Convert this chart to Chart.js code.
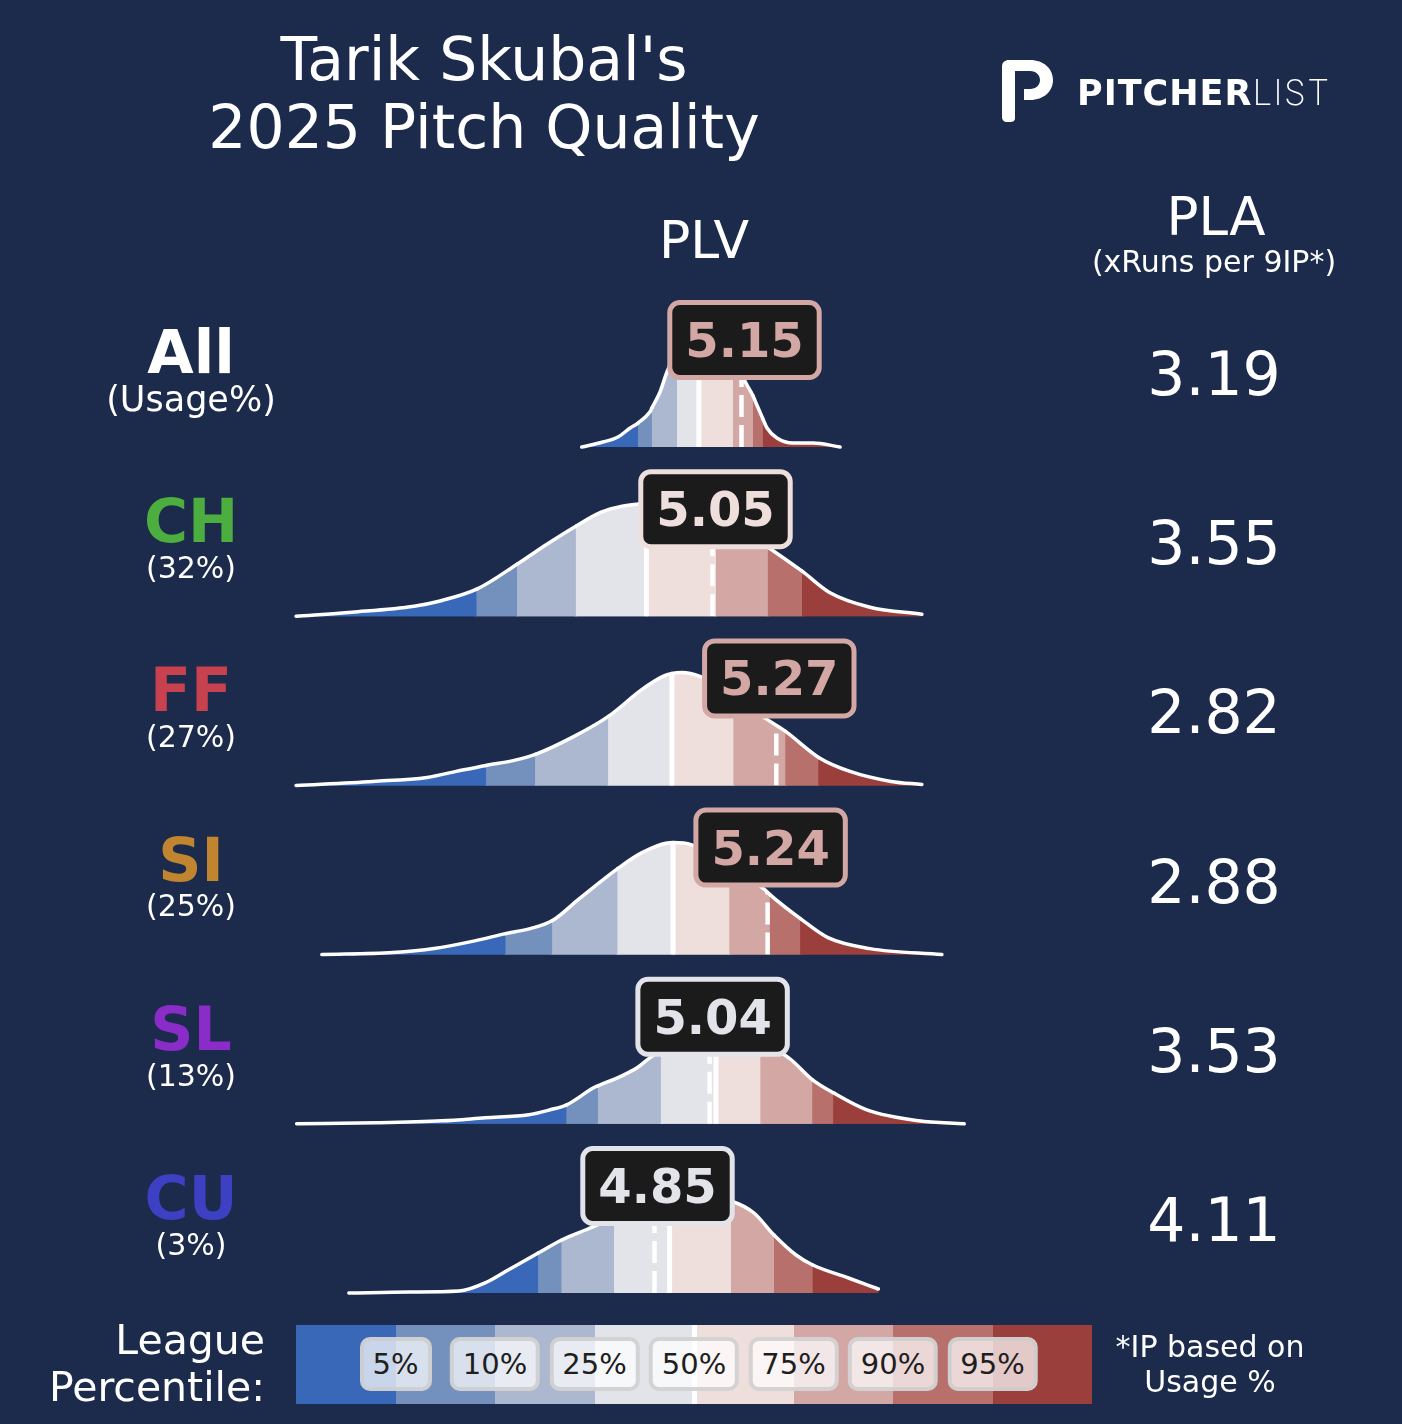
<!DOCTYPE html>
<html>
<head>
<meta charset="utf-8">
<script src="https://cdn.jsdelivr.net/npm/chart.js@4.4.1/dist/chart.umd.min.js"></script>
<style>
html,body{margin:0;padding:0;background:#1c2a4b;}
#wrap{position:relative;width:1402px;height:1424px;overflow:hidden;background:#1c2a4b;font-family:'DejaVu Sans',sans-serif;color:#fff;}
.t{position:absolute;white-space:nowrap;line-height:1;}
.c{transform:translateX(-50%);text-align:center;}
.r{transform:translateX(-100%);text-align:right;}
.lgbox{position:absolute;top:1337px;height:46px;line-height:46px;transform:translateX(-50%);padding:0 9px;font-size:29px;color:#1e1e1e;
  background:rgba(255,255,255,0.72);border:4px solid rgba(205,205,205,0.85);border-radius:10px;white-space:nowrap;}
</style>
</head>
<body>
<div id="wrap">
  <canvas id="c" width="1402" height="1424" style="position:absolute;left:0;top:0;width:1402px;height:1424px;"></canvas>
</div>
<script>
// ---------------- DATA ----------------
const pitchCodes   = ['All', 'CH', 'FF', 'SI', 'SL', 'CU'];
const pitchColors  = ['#ffffff', '#4cae3e', '#c8414f', '#c1842f', '#8a2cc8', '#3e40c4'];
const usageLabels  = ['(Usage%)', '(32%)', '(27%)', '(25%)', '(13%)', '(3%)'];
const plvValues    = [5.15, 5.05, 5.27, 5.24, 5.04, 4.85];
const plaValues    = [3.19, 3.55, 2.82, 2.88, 3.53, 4.11];
const percentileLabels = ['5%', '10%', '25%', '50%', '75%', '90%', '95%'];
const bandColors   = ['#3a68b8', '#7490bd', '#acb8d0', '#e3e4ea', '#efdfdc', '#d3a7a4', '#b7706b', '#9b3f3c'];

// league percentile PLV cut points (5,10,25,50,75,90,95) per pitch type
const allPctl = [4.793, 4.841, 4.928, 5.003, 5.121, 5.190, 5.224];
const chPctl  = [4.237, 4.376, 4.579, 4.822, 5.062, 5.241, 5.359];
const ffPctl  = [4.269, 4.439, 4.691, 4.910, 5.123, 5.302, 5.416];
const siPctl  = [4.337, 4.498, 4.723, 4.914, 5.109, 5.248, 5.353];
const slPctl  = [4.547, 4.655, 4.872, 5.062, 5.216, 5.395, 5.467];
const cuPctl  = [4.449, 4.530, 4.711, 4.902, 5.114, 5.262, 5.396];

// density curves: PLV positions and relative density
const allPLV = [4.599, 4.672, 4.724, 4.766, 4.793, 4.834, 4.841, 4.869, 4.893, 4.928, 4.972, 5.003, 5.048, 5.121, 5.169, 5.190, 5.203, 5.224, 5.238, 5.272, 5.328, 5.397, 5.490];
const allDen = [0, 0.05, 0.10, 0.19, 0.24, 0.35, 0.39, 0.55, 0.75, 0.96, 1.10, 1.14, 1.13, 0.88, 0.62, 0.51, 0.42, 0.28, 0.19, 0.09, 0.04, 0.04, 0];

const chPLV = [3.614, 3.807, 4.021, 4.107, 4.237, 4.376, 4.479, 4.579, 4.666, 4.738, 4.822, 4.903, 4.972, 5.062, 5.162, 5.241, 5.359, 5.452, 5.593, 5.772];
const chDen = [0, 0.04, 0.10, 0.15, 0.27, 0.52, 0.72, 0.90, 1.04, 1.10, 1.13, 1.14, 1.11, 1.02, 0.84, 0.69, 0.45, 0.24, 0.09, 0.02];

const ffPLV = [3.614, 3.879, 4.066, 4.166, 4.269, 4.366, 4.439, 4.566, 4.691, 4.807, 4.879, 4.910, 4.945, 5.007, 5.123, 5.238, 5.302, 5.416, 5.524, 5.666, 5.772];
const ffDen = [0, 0.04, 0.08, 0.14, 0.20, 0.25, 0.31, 0.48, 0.69, 0.96, 1.09, 1.12, 1.13, 1.09, 0.90, 0.66, 0.54, 0.28, 0.14, 0.04, 0.01];

const siPLV = [3.703, 3.948, 4.090, 4.234, 4.337, 4.421, 4.498, 4.591, 4.723, 4.807, 4.914, 4.976, 5.109, 5.234, 5.248, 5.353, 5.448, 5.593, 5.841];
const siDen = [0, 0.02, 0.06, 0.14, 0.21, 0.26, 0.34, 0.56, 0.86, 1.02, 1.12, 1.10, 0.88, 0.64, 0.60, 0.36, 0.17, 0.06, 0];

const slPLV = [3.616, 3.892, 4.117, 4.266, 4.416, 4.490, 4.547, 4.640, 4.655, 4.730, 4.790, 4.834, 4.872, 4.972, 5.062, 5.179, 5.216, 5.313, 5.395, 5.467, 5.582, 5.761, 5.918];
const slDen = [0, 0.01, 0.03, 0.06, 0.09, 0.14, 0.19, 0.36, 0.38, 0.47, 0.56, 0.66, 0.73, 0.88, 0.93, 0.86, 0.81, 0.66, 0.44, 0.31, 0.14, 0.03, 0];

const cuPLV = [3.796, 4.007, 4.176, 4.272, 4.345, 4.449, 4.530, 4.612, 4.711, 4.800, 4.902, 5.007, 5.114, 5.193, 5.262, 5.338, 5.396, 5.519, 5.622];
const cuDen = [0, 0.01, 0.02, 0.11, 0.23, 0.40, 0.53, 0.63, 0.75, 0.84, 0.91, 0.97, 0.92, 0.80, 0.58, 0.38, 0.28, 0.15, 0.04];

const curvesPLV = [allPLV, chPLV, ffPLV, siPLV, slPLV, cuPLV];
const curvesDen = [allDen, chDen, ffDen, siDen, slDen, cuDen];
const curvesPct = [allPctl, chPctl, ffPctl, siPctl, slPctl, cuPctl];

// ---------------- LAYOUT / STYLE ----------------
const ROW_STEP = 169.2;            // px per row unit
const DSCALE = 100 / ROW_STEP;     // density unit -> row units
const rowValue = i => 5 - i;
const bandIndex = (pct, v) => pct.filter(q => q <= v + 1e-9).length;

const wrap = document.getElementById('wrap');
function addText(txt, cls, left, top, size, extra) {
  const d = document.createElement('div');
  d.className = 't ' + cls;
  d.style.left = left + 'px';
  d.style.top = top + 'px';
  d.style.fontSize = size + 'px';
  if (extra) Object.assign(d.style, extra);
  d.textContent = txt;
  wrap.appendChild(d);
  return d;
}

// Title
addText("Tarik Skubal's", 'c', 484, 29, 60);
addText('2025 Pitch Quality', 'c', 484, 97, 60);
// Headers
addText('PLV', 'c', 704, 214, 52);
addText('PLA', 'c', 1216, 190, 53);
addText('(xRuns per 9IP*)', 'c', 1214, 247, 30);

// Logo
const logo = document.createElement('div');
logo.innerHTML = '<svg width="56" height="66" viewBox="0 0 56 66" style="position:absolute;left:999px;top:58px">' +
  '<path fill="#fff" d="M3 9 C3 4 6 2 10 2 L31 2 C45 2 54 11 54 22 C54 33 45 42 31 42 L25 42 L25 31 L31 31 C37 31 41 27 41 22 C41 17 37 13 31 13 L16 13 L16 60 C16 63 14 64 11 64 L8 64 C5 64 3 62 3 59 Z"/></svg>';
wrap.appendChild(logo);
const lt = addText('', '', 1077, 75, 35, {letterSpacing: '1px'});
lt.innerHTML = '<span style="font-weight:bold">PITCHER</span><span style="font-family:Inter,\'DejaVu Sans\',sans-serif;font-weight:200;letter-spacing:1.5px">LIST</span>';

// Row labels
pitchCodes.forEach((code, i) => {
  const off = i * ROW_STEP;
  addText(code, 'c', 191, 322 + off, 60, {fontWeight: 'bold', color: pitchColors[i]});
  if (i === 0) addText(usageLabels[i], 'c', 191, 382, 35);
  else addText(usageLabels[i], 'c', 191, 553 + (i - 1) * ROW_STEP, 30);
  addText(plaValues[i].toFixed(2), 'c', 1214, 344 + off, 60);
});

// Legend
const bar = document.createElement('div');
bar.style.cssText = 'position:absolute;left:296px;top:1325px;width:796px;height:79px;display:flex;';
bandColors.forEach((col, k) => {
  const s = document.createElement('div');
  s.style.cssText = 'flex:1;height:100%;background:' + col + ';';
  bar.appendChild(s);
});
wrap.appendChild(bar);
const sep = document.createElement('div');
sep.style.cssText = 'position:absolute;left:691.5px;top:1325px;width:5px;height:79px;background:#fff;';
wrap.appendChild(sep);
percentileLabels.forEach((lab, k) => {
  const d = document.createElement('div');
  d.className = 'lgbox';
  d.style.left = (296 + 99.5 * (k + 1)) + 'px';
  d.textContent = lab;
  wrap.appendChild(d);
});
addText('League', 'r', 265, 1320, 41);
addText('Percentile:', 'r', 265, 1367, 41);
addText('*IP based on', 'c', 1210, 1332, 30);
addText('Usage %', 'c', 1210, 1367, 30);

// ---------------- CHART ----------------
const datasets = curvesPLV.map((plv, i) => {
  const pct = curvesPct[i];
  return {
    label: pitchCodes[i],
    data: plv.map((x, k) => ({x: x, y: rowValue(i) + curvesDen[i][k] * DSCALE})),
    borderColor: '#ffffff',
    borderWidth: 3.5,
    borderCapStyle: 'round',
    borderJoinStyle: 'round',
    backgroundColor: bandColors[3],
    fill: {value: rowValue(i)},
    cubicInterpolationMode: 'monotone',
    pointRadius: 0,
    segment: {
      backgroundColor: c => bandColors[bandIndex(pct, plv[c.p0DataIndex])]
    }
  };
});

function clipUnderCurve(ctx, pts, base) {
  ctx.beginPath();
  ctx.moveTo(pts[0].x, pts[0].y);
  for (let k = 1; k < pts.length; k++) {
    const p = pts[k - 1], q = pts[k];
    ctx.bezierCurveTo(p.cp2x, p.cp2y, q.cp1x, q.cp1y, q.x, q.y);
  }
  ctx.lineTo(pts[pts.length - 1].x, base);
  ctx.lineTo(pts[0].x, base);
  ctx.closePath();
  ctx.clip();
}

const ridgeDecor = {
  id: 'ridgeDecor',
  // seamless under-layer of the percentile bands (hides anti-alias seams between fill segments)
  beforeDatasetsDraw(chart) {
    const ctx = chart.ctx;
    const xs = chart.scales.x, ys = chart.scales.y;
    datasets.forEach((ds, i) => {
      const pts = chart.getDatasetMeta(i).data;
      const base = ys.getPixelForValue(rowValue(i));
      const pct = curvesPct[i];
      ctx.save();
      clipUnderCurve(ctx, pts, base);
      const edges = [pts[0].x - 2].concat(pct.map(v => xs.getPixelForValue(v)), [pts[pts.length - 1].x + 2]);
      for (let j = 0; j < bandColors.length; j++) {
        const l = Math.floor(edges[j]) - 1, r = Math.ceil(edges[j + 1]) + 1;
        ctx.fillStyle = bandColors[j];
        ctx.fillRect(l, base - 260, r - l, 262);
      }
      ctx.restore();
    });
  },
  afterDatasetsDraw(chart) {
    const ctx = chart.ctx;
    const xs = chart.scales.x, ys = chart.scales.y;
    datasets.forEach((ds, i) => {
      const pts = chart.getDatasetMeta(i).data;
      const base = ys.getPixelForValue(rowValue(i));
      const pct = curvesPct[i];
      ctx.save();
      clipUnderCurve(ctx, pts, base);
      // median (league 50th percentile)
      const mx = xs.getPixelForValue(pct[3]);
      ctx.strokeStyle = '#ffffff';
      ctx.lineWidth = 5;
      ctx.beginPath(); ctx.moveTo(mx, base); ctx.lineTo(mx, base - 260); ctx.stroke();
      // pitcher's value
      const vx = xs.getPixelForValue(plvValues[i]);
      ctx.lineWidth = 4.5;
      ctx.setLineDash([22, 8]);
      ctx.beginPath(); ctx.moveTo(vx, base); ctx.lineTo(vx, base - 260); ctx.stroke();
      ctx.restore();

      // value label box
      const col = bandColors[bandIndex(pct, plvValues[i])];
      const txt = plvValues[i].toFixed(2);
      ctx.save();
      ctx.font = 'bold 48px "DejaVu Sans"';
      const tw = ctx.measureText(txt).width;
      const bw = tw + 31, bh = 75;
      const cx = vx + 3, cy = base - 107;
      ctx.beginPath();
      ctx.roundRect(cx - bw / 2, cy - bh / 2, bw, bh, 10);
      ctx.fillStyle = '#1b1b1b';
      ctx.fill();
      ctx.lineWidth = 5;
      ctx.strokeStyle = col;
      ctx.stroke();
      ctx.fillStyle = col;
      ctx.textAlign = 'center';
      ctx.textBaseline = 'alphabetic';
      ctx.fillText(txt, cx, cy + 17);
      ctx.restore();
    });
  }
};

new Chart(document.getElementById('c'), {
  type: 'line',
  data: {datasets: datasets},
  options: {
    responsive: false,
    animation: false,
    layout: {padding: {left: 263, right: 269, top: 0, bottom: 0}},
    scales: {
      x: {type: 'linear', min: 3.5, max: 6.5, display: false},
      y: {type: 'linear', min: -0.7742, max: 7.6419, display: false}
    },
    plugins: {legend: {display: false}, tooltip: {enabled: false}, title: {display: false}},
    elements: {point: {radius: 0}}
  },
  plugins: [ridgeDecor]
});
</script>
</body>
</html>
